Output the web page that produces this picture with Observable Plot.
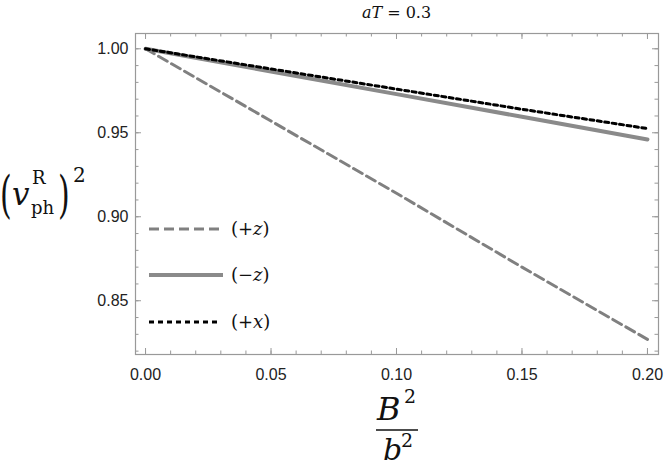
<!DOCTYPE html>
<html>
<head>
<meta charset="utf-8">
<script src="https://cdn.jsdelivr.net/npm/d3@7"></script>
<script src="https://cdn.jsdelivr.net/npm/@observablehq/plot@0.6"></script>
<style>
  html, body { margin: 0; padding: 0; background: #fff; }
  #wrap { position: relative; width: 664px; height: 469px; overflow: hidden; }
  #wrap > svg { position: absolute; left: 0; top: 0; }
</style>
</head>
<body>
<div id="wrap"></div>
<script>
// ---- data ----
const xValues = [0, 0.05, 0.10, 0.15, 0.20];
const plusZ  = [1.000, 0.957, 0.914, 0.870, 0.827];
const minusZ = [1.000, 0.9865, 0.973, 0.9595, 0.946];
const plusX  = [1.000, 0.988, 0.976, 0.964, 0.9525];
const seriesNames = ["(+z)", "(−z)", "(+x)"];
const xMajorTicks = [0, 0.05, 0.10, 0.15, 0.20];
const yMajorTicks = [0.85, 0.90, 0.95, 1.00];
const xMinorTicks = d3.range(0, 21).map(i => i / 100);
const yMinorTicks = d3.range(82, 101).map(i => i / 100);

const rows = (name, ys) => xValues.map((x, i) => ({x, y: ys[i], name}));
const dZ = rows(seriesNames[0], plusZ);
const dMZ = rows(seriesNames[1], minusZ);
const dX = rows(seriesNames[2], plusX);

const frameH = 469 - 33 - 115;
const frameW = 664 - 135 - 6;
const tickCol = "#999";

const chart = Plot.plot({
  width: 664,
  height: 469,
  marginLeft: 135,
  marginRight: 6,
  marginTop: 33,
  marginBottom: 115,
  style: {fontFamily: "Liberation Sans, Arial, sans-serif", fontSize: "16px", color: "#222", background: "white"},
  x: {domain: [-0.004, 0.2044]},
  y: {domain: [0.818, 1.0091]},
  marks: [
    Plot.tickX(xMinorTicks, {x: d => d, stroke: tickCol, insetTop: frameH - 3.5}),
    Plot.tickX(xMinorTicks, {x: d => d, stroke: tickCol, insetBottom: frameH - 3.5}),
    Plot.tickX(xMajorTicks, {x: d => d, stroke: tickCol, insetTop: frameH - 6}),
    Plot.tickX(xMajorTicks, {x: d => d, stroke: tickCol, insetBottom: frameH - 6}),
    Plot.tickY(yMinorTicks, {y: d => d, stroke: tickCol, insetRight: frameW - 3.5}),
    Plot.tickY(yMinorTicks, {y: d => d, stroke: tickCol, insetLeft: frameW - 3.5}),
    Plot.tickY(yMajorTicks, {y: d => d, stroke: tickCol, insetRight: frameW - 6}),
    Plot.tickY(yMajorTicks, {y: d => d, stroke: tickCol, insetLeft: frameW - 6}),
    Plot.axisX({ticks: xMajorTicks, tickFormat: d3.format(".2f"), tickSize: 0, tickPadding: 14, label: null, fill: "#222"}),
    Plot.axisY({ticks: yMajorTicks, tickFormat: d3.format(".2f"), tickSize: 0, tickPadding: 7, label: null, fill: "#222"}),
    Plot.frame({stroke: tickCol, strokeWidth: 1.2}),
    Plot.line(dZ, {x: "x", y: "y", stroke: "#808080", strokeWidth: 3, strokeDasharray: "10,5"}),
    Plot.line(dMZ, {x: "x", y: "y", stroke: "#8a8a8a", strokeWidth: 4}),
    Plot.line(dX, {x: "x", y: "y", stroke: "#000", strokeWidth: 3, strokeDasharray: "4,3.5"})
  ]
});

const wrap = document.getElementById("wrap");
wrap.appendChild(chart);

// ---- annotations overlay (title, axis labels, legend) ----
const ns = "http://www.w3.org/2000/svg";
const ov = document.createElementNS(ns, "svg");
ov.setAttribute("width", 664);
ov.setAttribute("height", 469);
ov.setAttribute("font-family", "DejaVu Serif, serif");
ov.innerHTML = `
  <text x="396.5" y="18" text-anchor="middle" font-size="16" fill="#111"><tspan font-style="italic">aT</tspan> = 0.3</text>

  <text transform="translate(0,212) scale(1,1.65)" font-size="30" fill="#111">(</text>
  <text x="12" y="205" font-size="31" font-style="italic" fill="#111">v</text>
  <text x="32" y="184" font-size="18" fill="#111">R</text>
  <text x="31" y="214" font-size="18" fill="#111">ph</text>
  <text transform="translate(58,212) scale(1,1.65)" font-size="30" fill="#111">)</text>
  <text x="73" y="182" font-size="20" fill="#111">2</text>

  <text x="377" y="420" font-size="32" font-style="italic" fill="#111">B</text>
  <text x="404" y="403" font-size="19" fill="#111">2</text>
  <line x1="376" x2="418" y1="430" y2="430" stroke="#111" stroke-width="1.5"/>
  <text x="383" y="460" font-size="30" font-style="italic" fill="#111">b</text>
  <text x="401" y="447" font-size="19" fill="#111">2</text>

  <line x1="149" x2="219" y1="229" y2="229" stroke="#808080" stroke-width="3" stroke-dasharray="10,5"/>
  <line x1="149" x2="223" y1="275" y2="275" stroke="#8a8a8a" stroke-width="4"/>
  <line x1="149" x2="219" y1="322" y2="322" stroke="#000" stroke-width="3" stroke-dasharray="5,4"/>
  <text x="231" y="235" font-size="18" fill="#111">(+<tspan font-style="italic">z</tspan>)</text>
  <text x="231" y="281" font-size="18" fill="#111">(−<tspan font-style="italic">z</tspan>)</text>
  <text x="231" y="328" font-size="18" fill="#111">(+<tspan font-style="italic">x</tspan>)</text>
`;
wrap.appendChild(ov);
</script>
</body>
</html>
